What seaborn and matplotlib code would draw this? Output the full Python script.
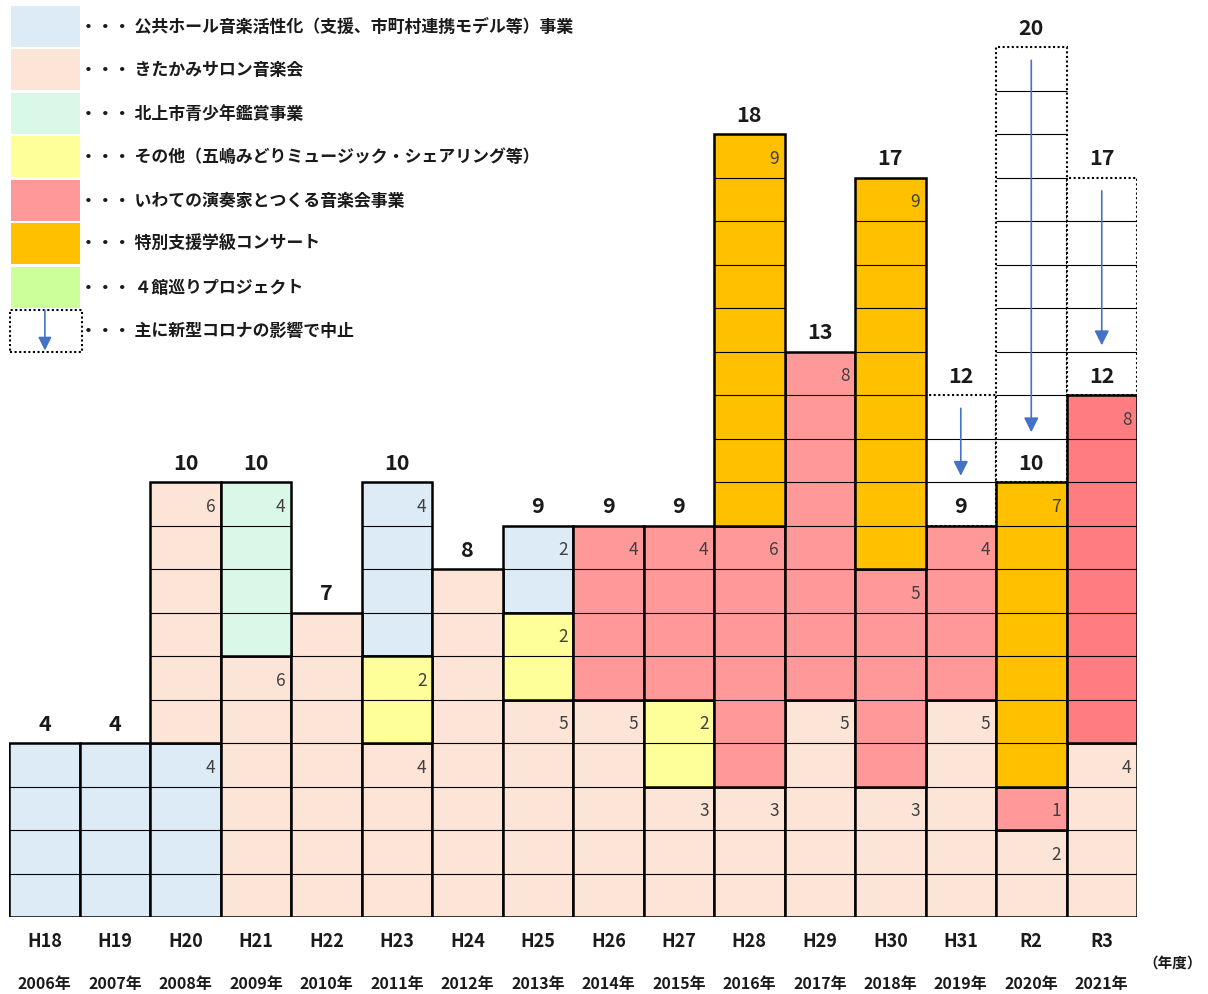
import numpy as np
import pandas as pd
import matplotlib
matplotlib.use("Agg")
import matplotlib.pyplot as plt
from matplotlib.patches import Rectangle
import matplotlib.transforms as mtransforms
import seaborn as sns

# ---------------- data ----------------
years_h = ["H18", "H19", "H20", "H21", "H22", "H23", "H24", "H25",
           "H26", "H27", "H28", "H29", "H30", "H31", "R2", "R3"]
years_ad = ["2006年", "2007年", "2008年", "2009年", "2010年", "2011年", "2012年", "2013年",
            "2014年", "2015年", "2016年", "2017年", "2018年", "2019年", "2020年", "2021年"]

hall = [4, 4, 4, 0, 0, 4, 0, 2, 0, 0, 0, 0, 0, 0, 0, 0]      # 公共ホール音楽活性化
salon = [0, 0, 6, 6, 7, 4, 8, 5, 5, 3, 3, 5, 3, 5, 2, 4]     # きたかみサロン音楽会
youth = [0, 0, 0, 4, 0, 0, 0, 0, 0, 0, 0, 0, 0, 0, 0, 0]     # 北上市青少年鑑賞事業
other = [0, 0, 0, 0, 0, 2, 0, 2, 0, 2, 0, 0, 0, 0, 0, 0]     # その他
iwate = [0, 0, 0, 0, 0, 0, 0, 0, 4, 4, 6, 8, 5, 4, 1, 8]     # いわての演奏家とつくる音楽会事業
special = [0, 0, 0, 0, 0, 0, 0, 0, 0, 0, 9, 0, 9, 0, 7, 0]   # 特別支援学級コンサート
yonkan = [0, 0, 0, 0, 0, 0, 0, 0, 0, 0, 0, 0, 0, 0, 0, 0]    # 4館巡りプロジェクト
cancelled = [0, 0, 0, 0, 0, 0, 0, 0, 0, 0, 0, 0, 0, 3, 10, 5]  # 中止

hall_first_years = ["H18", "H19", "H20"]

legend_labels = [
    "公共ホール音楽活性化（支援、市町村連携モデル等）事業",
    "きたかみサロン音楽会",
    "北上市青少年鑑賞事業",
    "その他（五嶋みどりミュージック・シェアリング等）",
    "いわての演奏家とつくる音楽会事業",
    "特別支援学級コンサート",
    "４館巡りプロジェクト",
    "主に新型コロナの影響で中止",
]

# ---------------- style ----------------
series = {"hall": hall, "salon": salon, "youth": youth, "other": other,
          "iwate": iwate, "special": special, "yonkan": yonkan}
keys = ["hall", "salon", "youth", "other", "iwate", "special", "yonkan"]
colors = {"hall": "#DDEBF7", "salon": "#FCE4D6", "youth": "#DAF8E8", "other": "#FFFF99",
          "iwate": "#FF9999", "special": "#FFC000", "yonkan": "#CCFF99"}
color_override = {("iwate", "R3"): "#FF7C80"}
arrow_color = "#4472C4"

sns.set_theme(style="white")
plt.rcParams["font.family"] = ["Noto Sans CJK JP", "DejaVu Sans"]

W, H = 1208, 995
fig = plt.figure(figsize=(W / 100, H / 100), dpi=100)
ax_left, ax_right, ax_bottom, ax_top = 9.3, 1137.0, 918.3, 4.8
ax = fig.add_axes([ax_left / W, (H - ax_bottom) / H,
                   (ax_right - ax_left) / W, (ax_bottom - ax_top) / H])
px_per_unit_y = (ax_bottom - ax_top) / 21.0
px_per_unit_x = (ax_right - ax_left) / 16.0

# ---------------- build segments ----------------
rows = []
for i, y in enumerate(years_h):
    if y in hall_first_years:
        order = ["hall", "salon", "youth", "other", "iwate", "special", "yonkan"]
    else:
        order = ["salon", "youth", "other", "iwate", "special", "yonkan", "hall"]
    b = 0
    for k in order:
        v = series[k][i]
        if v > 0:
            rows.append(dict(year=y, pos=i, key=k, value=v, bottom=b,
                             color=color_override.get((k, y), colors[k])))
            b += v
seg = pd.DataFrame(rows)
actual_tot = np.array([sum(series[k][i] for k in keys) for i in range(len(years_h))])
canc = np.array(cancelled)

# cancelled (dotted) boxes
cdf = pd.DataFrame(dict(year=years_h, value=canc, bottom=actual_tot))
csub = cdf[cdf["value"] > 0]
sns.barplot(data=csub, x="year", y="value", order=years_h,
            bottom=csub["bottom"].to_numpy(), color="white", saturation=1,
            width=1, edgecolor="black", linewidth=1.5, linestyle=(0, (1, 1.2)),
            errorbar=None, ax=ax)

# actual segments
for col, sub in seg.groupby("color", sort=False):
    sub = sub.sort_values("pos")
    sns.barplot(data=sub, x="year", y="value", order=years_h,
                bottom=sub["bottom"].to_numpy(), color=col, saturation=1,
                width=1, edgecolor="black", linewidth=1.8,
                errorbar=None, ax=ax)

# thin unit grid lines inside each column
for i in range(len(years_h)):
    s = seg[seg["pos"] == i]
    bounds = set(s["bottom"].tolist()) | set((s["bottom"] + s["value"]).tolist())
    top_all = actual_tot[i] + canc[i]
    for lvl in range(1, int(top_all)):
        if lvl in bounds:
            continue
        ax.hlines(lvl, i - 0.5, i + 0.5, color="black", linewidth=0.8, zorder=2)

# arrows for cancelled
for i in range(len(years_h)):
    if canc[i] > 0:
        ax.annotate("", xy=(i, actual_tot[i] + 1.15), xytext=(i, actual_tot[i] + canc[i] - 0.3),
                    arrowprops=dict(arrowstyle="-|>", color=arrow_color, lw=1.2,
                                    mutation_scale=22, shrinkA=0, shrinkB=0),
                    zorder=4)

# total labels
tot_cap = 16.7 / px_per_unit_y
for i in range(len(years_h)):
    t = actual_tot[i]
    ax.text(i, t + 0.5 - tot_cap / 2, str(t), ha="center", va="baseline",
            fontsize=15.5, fontweight="bold", color="#1a1a1a", zorder=5)
    if canc[i] > 0:
        tt = t + canc[i]
        ax.text(i, tt + 0.5 - tot_cap / 2, str(tt), ha="center", va="baseline",
                fontsize=15.5, fontweight="bold", color="#1a1a1a", zorder=5)

# segment value labels
seg_cap = 13.3 / px_per_unit_y
for i in range(len(years_h)):
    s = seg[seg["pos"] == i]
    if len(s) < 2:
        continue
    for _, r in s.iterrows():
        top = r["bottom"] + r["value"]
        ax.text(i + 0.5 - 5.5 / px_per_unit_x, top - 0.5 - seg_cap / 2, str(r["value"]),
                ha="right", va="baseline", fontsize=12.5, color="#404040", zorder=5)

# legend (drawn in the empty upper-left region, aligned to the grid rows)
leg_colors = [colors[k] for k in keys] + [None]
for j, (lab, c) in enumerate(zip(legend_labels, leg_colors)):
    y0 = 20 - j
    if c is not None:
        ax.add_patch(Rectangle((-0.475, y0 + 0.01), 0.975, 0.95, facecolor=c,
                               edgecolor="none", zorder=3))
    else:
        ax.add_patch(Rectangle((-0.49, y0 - 0.01), 1.02, 0.97, facecolor="white",
                               edgecolor="black", linewidth=1.5, linestyle=(0, (1, 1.2)),
                               zorder=3))
        ax.annotate("", xy=(0.005, y0 + 0.03), xytext=(0.005, y0 + 0.96),
                    arrowprops=dict(arrowstyle="-|>", color=arrow_color, lw=1.2,
                                    mutation_scale=20, shrinkA=0, shrinkB=0), zorder=4)
    ax.text(-0.5 + (80 - ax_left) / px_per_unit_x, y0 + 0.5, "・・・ " + lab,
            ha="left", va="center", fontsize=12.2, fontweight="bold", color="#1a1a1a", zorder=5)

# axes cosmetics
ax.set_xlim(-0.5, 15.5)
ax.set_ylim(0, 21)
ax.set_xticks([])
ax.set_yticks([])
ax.set_xlabel("")
ax.set_ylabel("")
for sp in ax.spines.values():
    sp.set_visible(False)
ax.patch.set_alpha(0)

trans = mtransforms.blended_transform_factory(ax.transData, ax.transAxes)
axh = ax_bottom - ax_top
for i in range(len(years_h)):
    ax.text(i, -(28.4 / axh), years_h[i], transform=trans, ha="center", va="baseline",
            fontsize=13, fontweight="bold", color="#1a1a1a", clip_on=False)
    ax.text(i, -(71.0 / axh), years_ad[i], transform=trans, ha="center", va="baseline",
            fontsize=11.5, fontweight="bold", color="#1a1a1a", clip_on=False)
ax.text(-0.5 + (1173 - ax_left) / px_per_unit_x, -(44.0 / axh), "（年度）", transform=trans,
        ha="center", va="center", fontsize=10.5, fontweight="bold", color="#1a1a1a",
        clip_on=False)

fig.savefig("out.png", dpi=100)
